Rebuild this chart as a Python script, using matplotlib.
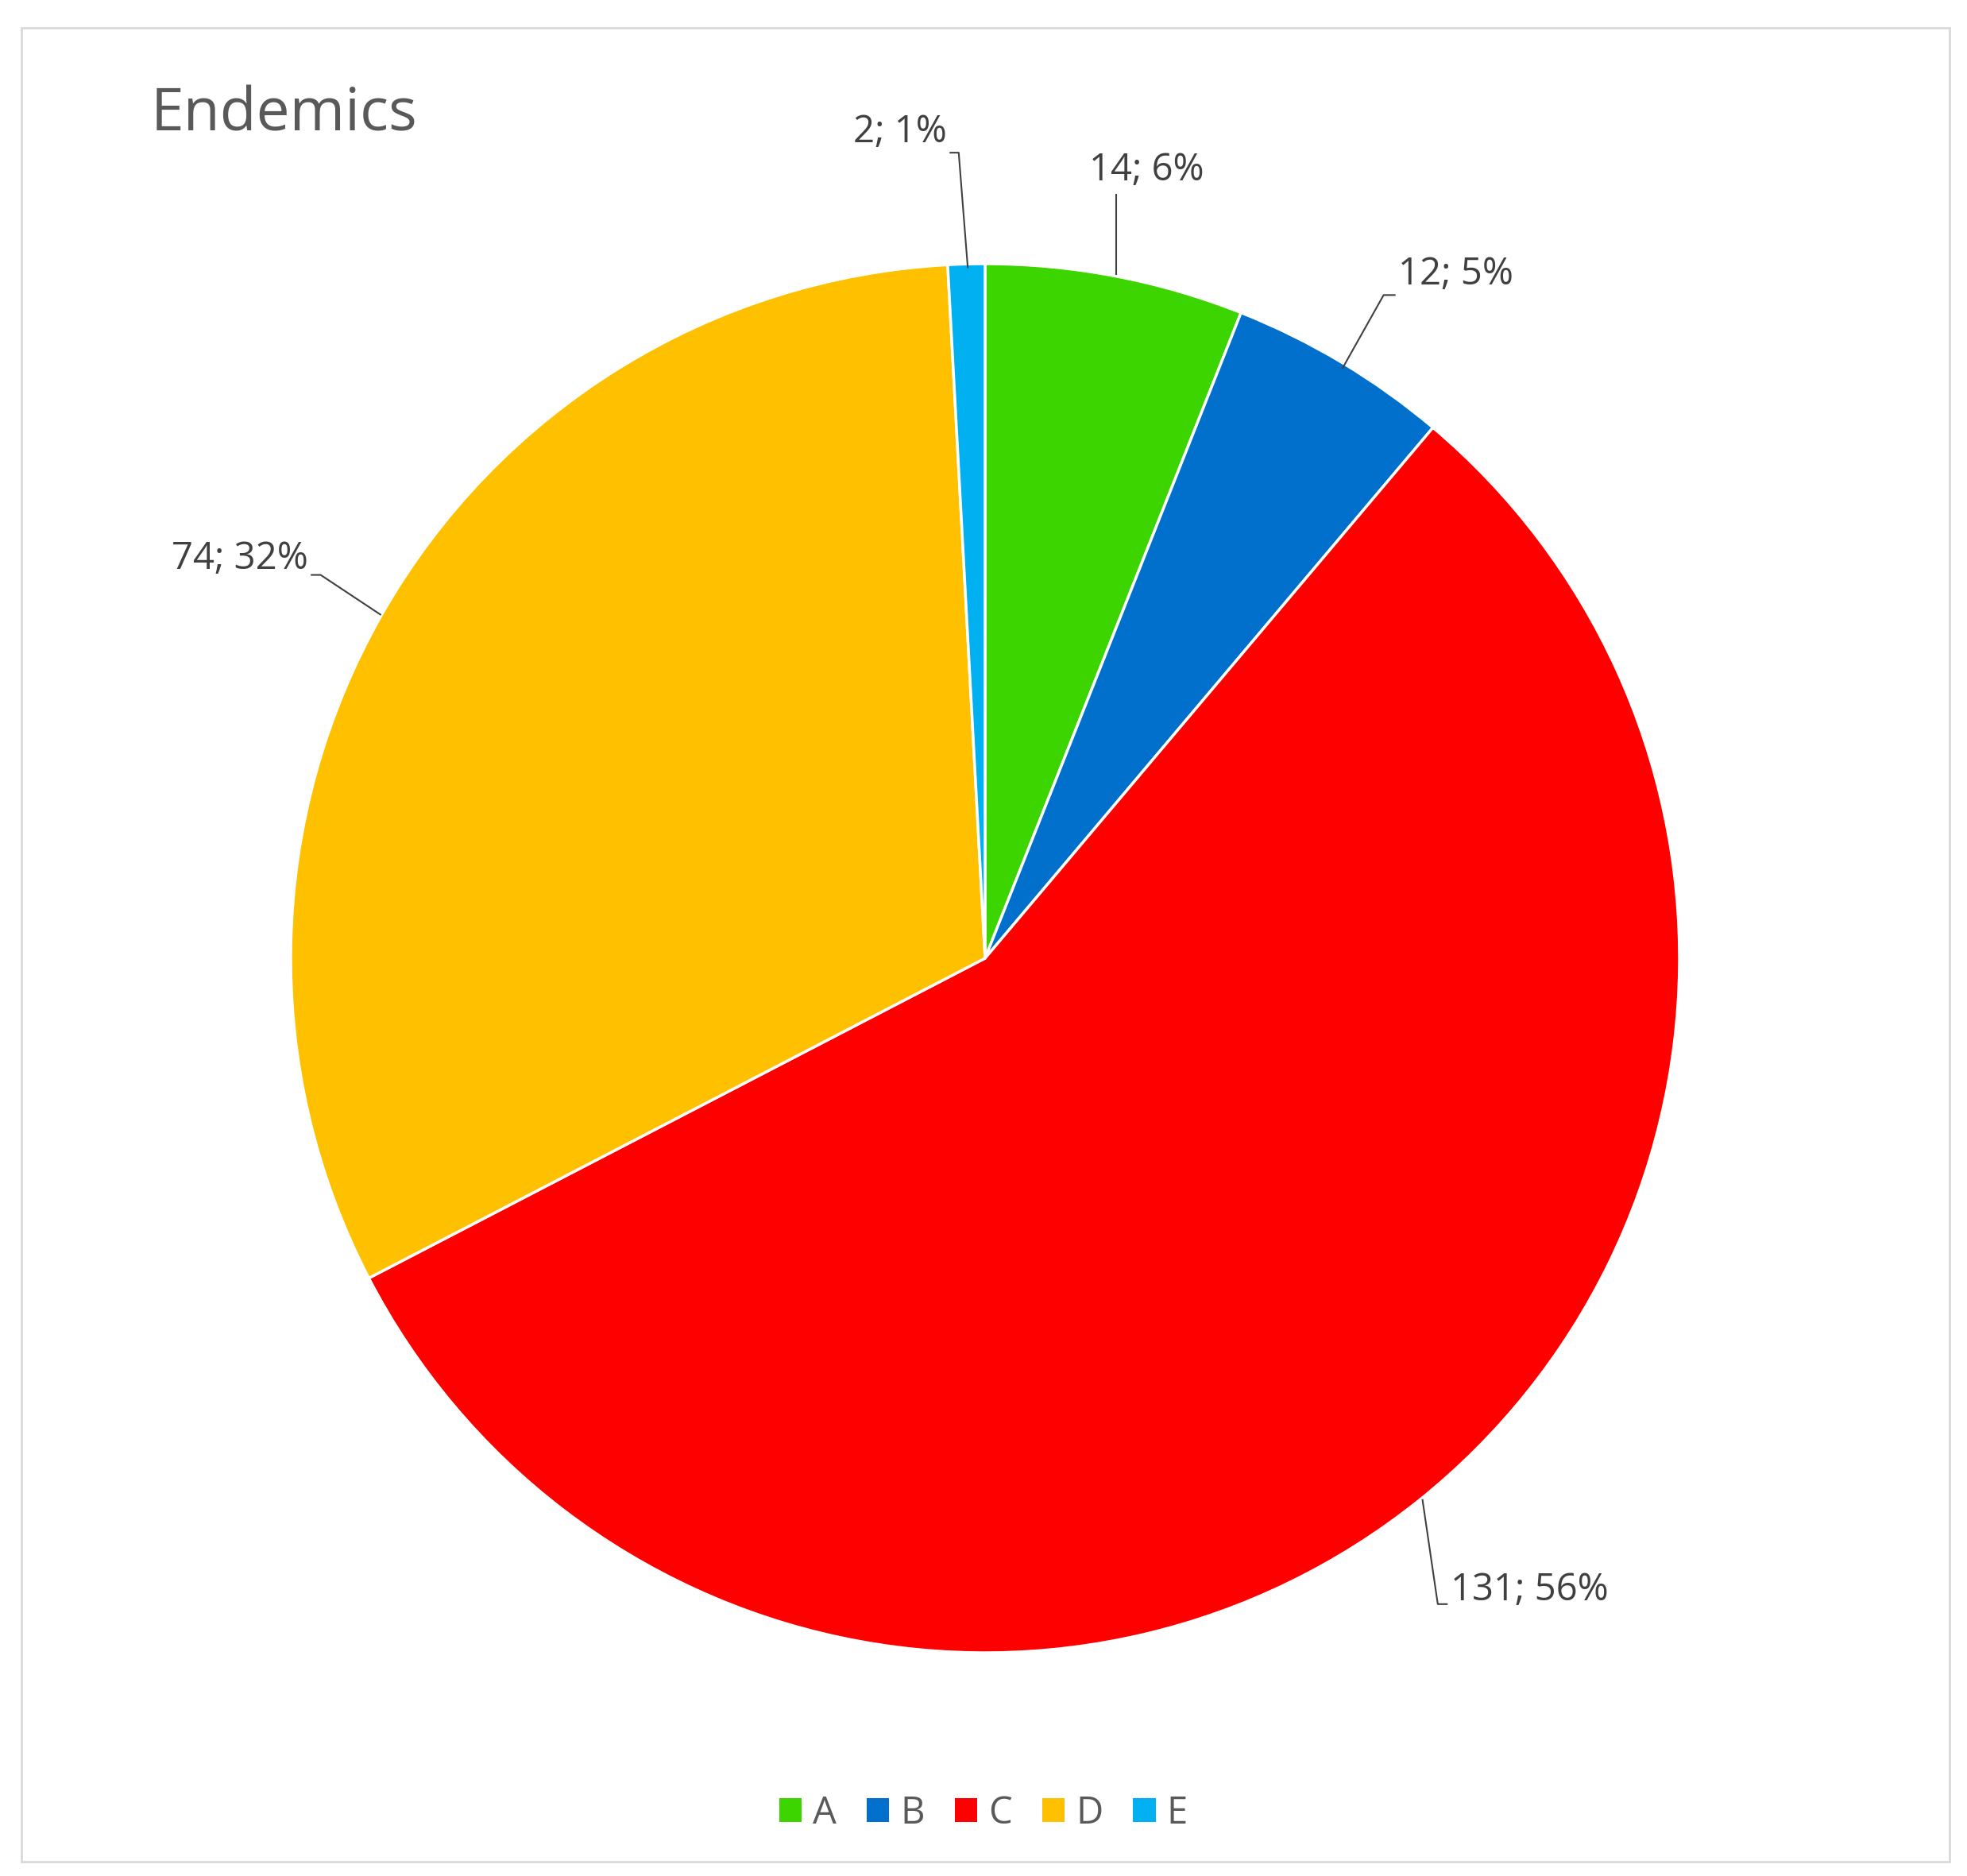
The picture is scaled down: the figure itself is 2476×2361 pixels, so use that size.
import matplotlib
matplotlib.use("Agg")
import matplotlib.pyplot as plt
from matplotlib.patches import Rectangle, Patch

categories = ["A", "B", "C", "D", "E"]
values = [14, 12, 131, 74, 2]
colors = ["#3CD500", "#0070CC", "#FF0000", "#FFC000", "#00B0F0"]
labels = ["14; 6%", "12; 5%", "131; 56%", "74; 32%", "2; 1%"]

plt.rcParams['font.family'] = ['Open Sans', 'DejaVu Sans']
fig = plt.figure(figsize=(24.76, 23.61), dpi=100)
fig.patches.append(Rectangle((27/2476, 1-2343/2361), (2454-27)/2476, (2343-35)/2361,
                             transform=fig.transFigure, fill=False, ec="#D9D9D9", lw=2))
r = 874
cx, cy = 1240/2476, 1-1206/2361
w, h = 2*r/2476, 2*r/2361
ax = fig.add_axes([cx-w/2, cy-h/2, w, h])
ax.pie(values, colors=colors, startangle=90, counterclock=False,
       wedgeprops=dict(edgecolor="white", linewidth=2.5))
ax.set_xlim(-1, 1); ax.set_ylim(-1, 1); ax.set_aspect("equal"); ax.axis("off")

# label text positions and leader paths (data coords)
text_pos = [(0.19, 1.135, "left"), (0.59, 0.985, "left"), (0.66, -0.91, "left"),
            (-0.86, 0.575, "right"), (-0.055, 1.19, "right")]
leaders = [[(0.189, 0.985), (0.189, 1.10)],
           [(0.515, 0.85), (0.574, 0.955), (0.59, 0.955)],
           [(0.63, -0.78), (0.652, -0.93), (0.665, -0.93)],
           [(-0.871, 0.495), (-0.957, 0.552), (-0.97, 0.552)],
           [(-0.025, 0.995), (-0.038, 1.16), (-0.05, 1.16)]]
for lab, (x, y, ha), path in zip(labels, text_pos, leaders):
    ax.plot([p[0] for p in path], [p[1] for p in path], color="#404040", lw=1.5, clip_on=False)
    if ha == "right":
        x = path[-1][0] - 0.005
    else:
        x = path[-1][0] + 0.005 if len(path) > 2 else x - 0.04
    ax.text(x, y, lab, ha=ha, va="center", fontsize=34, color="#404040", clip_on=False)

fig.text(190/2476, 1-145/2361, "Endemics", fontsize=54, color="#595959", ha="left", va="center")
handles = [Patch(facecolor=c, label=k) for c, k in zip(colors, categories)]
fig.legend(handles=handles, loc="center", bbox_to_anchor=(0.5, 1-2282/2361), ncol=5,
           frameon=False, fontsize=34, handlelength=0.6, handleheight=0.6,
           handletextpad=0.3, columnspacing=0.8, labelcolor="#595959")
fig.savefig("out.png", dpi=100, facecolor="white")
